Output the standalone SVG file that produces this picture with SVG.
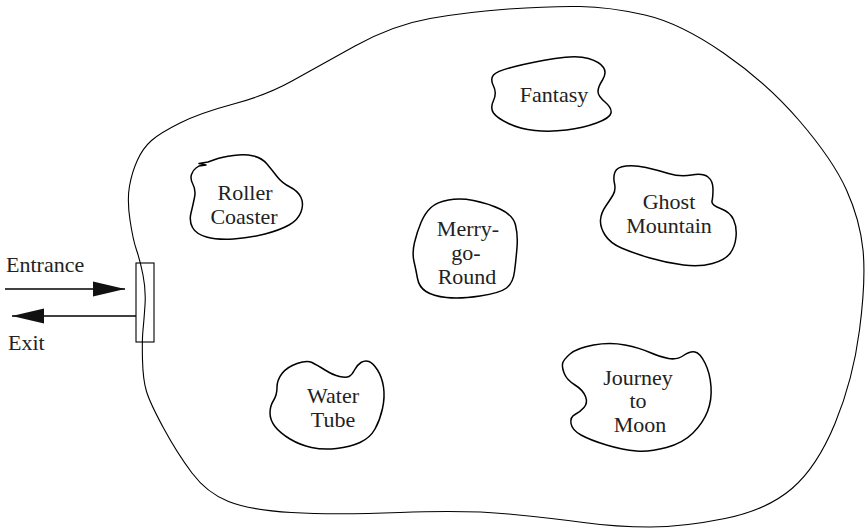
<svg xmlns="http://www.w3.org/2000/svg" width="867" height="530" viewBox="0 0 867 530">
<style>
.bound{fill:none;stroke:#000;stroke-width:1.1}
.blob{fill:none;stroke:#000;stroke-width:1.5;stroke-linejoin:round}
.lbl{text-anchor:middle}
.conn{stroke:#000;stroke-width:1.3;fill:none}
</style>
<defs>
<marker id="ah" markerUnits="userSpaceOnUse" markerWidth="32" markerHeight="16" refX="32" refY="7.5" orient="auto" viewBox="0 0 32 15">
<path d="M0,0 L32,7.5 L0,15 Z" fill="#111"/>
</marker>
</defs>
<g font-family="Liberation Serif, Times New Roman, serif" font-size="22" fill="#222">
<g id="park">
<path class="bound" d="M130,220 Q127,200 129.5,186 Q132,172 137.5,160 Q143,148 151.5,140.5 Q160,133 180,123 Q200,113 233.5,104 Q267,95 292,81 Q317,67 355,46 Q393,25 430,18.5 Q467,12 508.5,9 Q550,6 580,6.5 Q610,7 645,15 Q680,23 723.5,53 Q767,83 800,121.5 Q833,160 846.5,190 Q860,220 863,250 Q866,280 859.5,330 Q853,380 835,423.5 Q817,467 792,488.5 Q767,510 725,518.5 Q683,527 650,527 Q617,527 583.5,522.5 Q550,518 508.5,514 Q467,510 400,512.5 Q333,515 291.5,512.5 Q250,510 228.5,501.5 Q207,493 192,473 Q177,453 163.5,428 Q150,403 146.5,391.5 Q143,380 142.5,360 Q142,340 143,330 Q144,320 145,305 Q146,290 143,275 Q140,260 136.5,250 Q133,240 130,220 Z"/>
</g>
<g id="gate">
<rect x="136" y="263" width="18" height="79" fill="none" stroke="#000" stroke-width="1.1"/>
</g>
<g id="roller-coaster">
<path class="blob" d="M208,162 L215,159.5 Q222,157 233.5,155.5 Q245,154 253.5,156 Q262,158 267,164 Q272,170 277,176.5 Q282,183 290,187 Q298,191 301,197.5 Q304,204 301,212 Q298,220 289,225 Q280,230 265,234 Q250,238 233.5,239 Q217,240 206.5,237 Q196,234 192.5,227.5 Q189,221 191,213 Q193,205 194.5,197.5 Q196,190 193,184.5 Q190,179 191.5,174.5 Q193,170 196,168 L199,166 L206,165 L199,163.5 Z"/>
<text class="lbl" x="245" y="200">Roller</text>
<text class="lbl" x="244" y="224">Coaster</text>
</g>
<g id="fantasy">
<path class="blob" d="M493.5,75 Q497,71 515,66.5 Q533,62 555,58.5 Q577,55 588.5,58.5 Q600,62 603.5,67.5 Q607,73 602.5,80 Q598,87 598,91.5 Q598,96 605,102 Q612,108 611,113 Q610,118 596.5,123 Q583,128 566.5,130 Q550,132 535,130.5 Q520,129 508.5,123.5 Q497,118 493.5,113 Q490,108 493.5,100.5 Q497,93 493.5,86 Q490,79 493.5,75 Z"/>
<text class="lbl" x="554" y="102">Fantasy</text>
</g>
<g id="ghost-mountain">
<path class="blob" d="M615,172 Q617,167 626,166 Q635,165 646,167.5 Q657,170 668.5,173.5 Q680,177 691.5,175 Q703,173 708,177 Q713,181 713,189 Q713,197 712,201 Q711,205 720.5,208.5 Q730,212 733.5,219.5 Q737,227 736,237 Q735,247 730,253.5 Q725,260 712.5,263.5 Q700,267 683.5,265 Q667,263 650,258 Q633,253 621.5,248 Q610,243 605,235 Q600,227 600.5,220 Q601,213 605.5,206.5 Q610,200 613,195 Q616,190 614.5,183.5 Q613,177 615,172 Z"/>
<text class="lbl" x="669" y="209">Ghost</text>
<text class="lbl" x="669" y="233">Mountain</text>
</g>
<g id="merry-go-round">
<path class="blob" d="M431,207.5 Q437,202 448.5,200 Q460,198 473.5,200.5 Q487,203 500,209 Q513,215 515.5,225 Q518,235 517,247.5 Q516,260 514.5,271.5 Q513,283 506.5,288 Q500,293 480,296 Q460,299 446.5,297.5 Q433,296 426,291.5 Q419,287 417.5,278.5 Q416,270 414,261.5 Q412,253 414.5,242.5 Q417,232 421,222.5 Q425,213 431,207.5 Z"/>
<text class="lbl" x="468" y="236">Merry-</text>
<text class="lbl" x="466" y="260">go-</text>
<text class="lbl" x="467" y="284">Round</text>
</g>
<g id="water-tube">
<path class="blob" d="M312,362.5 Q307,360 297,363.5 Q287,367 282,373.5 Q277,380 277,387.5 Q277,395 273.5,400.5 Q270,406 270,413 Q270,420 275,426.5 Q280,433 290,439 Q300,445 311.5,447.5 Q323,450 336.5,448.5 Q350,447 360,442.5 Q370,438 375,429 Q380,420 382.5,408.5 Q385,397 383.5,387 Q382,377 377.5,370 Q373,363 369,361.5 Q365,360 361,362.5 Q357,365 354.5,370 Q352,375 349,376.5 Q346,378 339.5,376.5 Q333,375 325,370 Q317,365 312,362.5 Z"/>
<text class="lbl" x="333" y="403">Water</text>
<text class="lbl" x="333" y="427">Tube</text>
</g>
<g id="journey-to-moon">
<path class="blob" d="M562.5,364 Q563,360 570,354 Q577,348 593.5,345 Q610,342 625,345 Q640,348 650,352.5 Q660,357 668.5,358.5 Q677,360 683.5,355.5 Q690,351 695,352 Q700,353 705,363 Q710,373 711,386.5 Q712,400 707.5,411.5 Q703,423 693,433 Q683,443 666.5,447.5 Q650,452 636.5,451 Q623,450 606.5,445 Q590,440 581,435 Q572,430 571,423.5 Q570,417 575,414.5 Q580,412 584,407.5 Q588,403 585.5,396.5 Q583,390 575,385 Q567,380 564.5,374 Q562,368 562.5,364 Z"/>
<text class="lbl" x="638" y="385">Journey</text>
<text class="lbl" x="638" y="408">to</text>
<text class="lbl" x="640" y="432">Moon</text>
</g>
<g id="connectors">
<line class="conn" x1="5" y1="289" x2="125" y2="289" marker-end="url(#ah)"/>
<line class="conn" x1="136" y1="316" x2="12" y2="316" marker-end="url(#ah)"/>
</g>
<g id="labels">
<text x="6" y="272">Entrance</text>
<text x="8" y="350">Exit</text>
</g>
</g>
</svg>
